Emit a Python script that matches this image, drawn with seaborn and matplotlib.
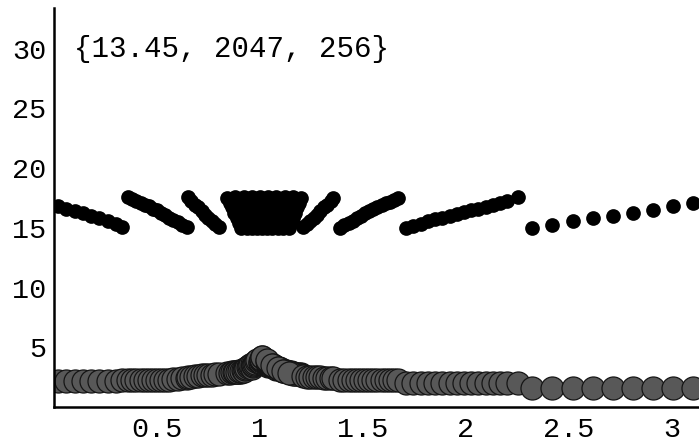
import matplotlib
matplotlib.use("Agg")
import matplotlib.pyplot as plt
import seaborn as sns
import pandas as pd

# ---------------- data ----------------
# segment A (left edge)
seg_a_x = [0.02, 0.06, 0.10, 0.14, 0.18, 0.22, 0.26, 0.30, 0.33]
seg_a_top = [16.8, 16.6, 16.4, 16.2, 16.0, 15.8, 15.6, 15.35, 15.05]
seg_a_low = [2.2, 2.2, 2.2, 2.15, 2.2, 2.2, 2.2, 2.2, 2.25]

# segment B
seg_b_x = [0.36, 0.38, 0.40, 0.42, 0.44, 0.46, 0.48, 0.50, 0.52, 0.54,
           0.56, 0.58, 0.60, 0.62, 0.645]
seg_b_top = [17.55, 17.4, 17.25, 17.1, 16.95, 16.8, 16.6, 16.45, 16.25, 16.05,
             15.85, 15.65, 15.45, 15.25, 15.05]
seg_b_low = [2.3, 2.3, 2.3, 2.3, 2.3, 2.3, 2.3, 2.3, 2.3, 2.3,
             2.3, 2.35, 2.35, 2.4, 2.45]

# segment C
seg_c_x = [0.65, 0.667, 0.683, 0.70, 0.717, 0.733, 0.75, 0.767, 0.783, 0.80]
seg_c_top = [17.55, 17.25, 16.95, 16.7, 16.4, 16.1, 15.85, 15.55, 15.3, 15.05]
seg_c_low = [2.55, 2.55, 2.6, 2.6, 2.65, 2.65, 2.7, 2.7, 2.75, 2.75]

# dense cluster around x = 1 (ten steep arms, each listed top to bottom)
cluster_x = [0.84, 0.852, 0.863, 0.875, 0.887, 0.898, 0.91,
             0.88, 0.889, 0.898, 0.908, 0.917, 0.926, 0.935,
             0.92, 0.927, 0.933, 0.94, 0.947, 0.953, 0.96,
             0.96, 0.964, 0.968, 0.973, 0.977, 0.981, 0.985,
             1.0, 1.002, 1.003, 1.005, 1.007, 1.008, 1.01,
             1.04, 1.039, 1.038, 1.038, 1.037, 1.036, 1.035,
             1.08, 1.077, 1.073, 1.07, 1.067, 1.063, 1.06,
             1.12, 1.114, 1.108, 1.103, 1.097, 1.091, 1.085,
             1.16, 1.152, 1.143, 1.135, 1.127, 1.118, 1.11,
             1.20, 1.19, 1.18, 1.17, 1.16, 1.15, 1.14]
cluster_top = [17.5, 17.1, 16.7, 16.25, 15.85, 15.4, 15.0,
               17.55, 17.1, 16.7, 16.25, 15.85, 15.4, 14.95,
               17.55, 17.1, 16.7, 16.25, 15.85, 15.4, 15.0,
               17.6, 17.1, 16.7, 16.25, 15.85, 15.4, 14.95,
               17.6, 17.1, 16.7, 16.25, 15.85, 15.4, 15.0,
               17.6, 17.1, 16.7, 16.25, 15.85, 15.4, 14.95,
               17.6, 17.1, 16.7, 16.25, 15.85, 15.4, 15.0,
               17.55, 17.1, 16.7, 16.25, 15.85, 15.4, 14.95,
               17.55, 17.1, 16.7, 16.25, 15.85, 15.4, 15.0,
               17.5, 17.1, 16.7, 16.25, 15.85, 15.4, 15.0]
cluster_low = [2.85, 2.85, 2.9, 2.9, 2.9, 2.95, 2.95,
               2.9, 2.95, 3.0, 3.05, 3.1, 3.15, 3.2,
               3.05, 3.15, 3.25, 3.35, 3.45, 3.55, 3.6,
               3.3, 3.4, 3.5, 3.6, 3.7, 3.85, 3.95,
               3.65, 3.75, 3.85, 3.95, 4.05, 4.15, 4.2,
               3.4, 3.5, 3.6, 3.7, 3.8, 3.85, 3.9,
               3.2, 3.25, 3.3, 3.4, 3.45, 3.5, 3.55,
               3.0, 3.05, 3.1, 3.15, 3.2, 3.25, 3.3,
               2.85, 2.9, 2.9, 2.95, 3.0, 3.05, 3.05,
               2.75, 2.75, 2.8, 2.8, 2.8, 2.85, 2.85]

# segment C' (mirror of C)
seg_c2_x = [1.21, 1.227, 1.243, 1.26, 1.277, 1.293, 1.31, 1.327, 1.343, 1.355]
seg_c2_top = [15.05, 15.3, 15.55, 15.85, 16.1, 16.4, 16.7, 16.95, 17.25, 17.5]
seg_c2_low = [2.6, 2.55, 2.55, 2.5, 2.5, 2.5, 2.45, 2.45, 2.45, 2.4]

# segment B' (mirror of B)
seg_b2_x = [1.39, 1.41, 1.43, 1.45, 1.47, 1.49, 1.51, 1.53, 1.55, 1.57,
            1.59, 1.61, 1.63, 1.65, 1.67]
seg_b2_top = [15.0, 15.2, 15.4, 15.6, 15.8, 16.0, 16.2, 16.4, 16.6, 16.75,
              16.9, 17.05, 17.2, 17.35, 17.5]
seg_b2_low = [2.3, 2.3, 2.25, 2.25, 2.25, 2.25, 2.25, 2.25, 2.25, 2.25,
              2.25, 2.25, 2.25, 2.25, 2.25]

# segment A' (mirror of A, longer)
seg_a2_x = [1.71, 1.745, 1.78, 1.815, 1.85, 1.885, 1.92, 1.955, 1.99, 2.025,
            2.06, 2.095, 2.13, 2.165, 2.2, 2.25]
seg_a2_top = [14.95, 15.15, 15.35, 15.55, 15.7, 15.85, 16.0, 16.15, 16.3, 16.45,
              16.6, 16.75, 16.9, 17.05, 17.25, 17.55]
seg_a2_low = [2.05, 2.05, 2.05, 2.05, 2.05, 2.05, 2.05, 2.05, 2.05, 2.05,
              2.05, 2.05, 2.05, 2.05, 2.05, 2.05]

# sparse segment D (right end)
seg_d_x = [2.32, 2.417, 2.519, 2.617, 2.714, 2.811, 2.908, 3.005, 3.102]
seg_d_top = [15.0, 15.2, 15.55, 15.8, 16.0, 16.25, 16.45, 16.8, 17.1]
seg_d_low = [1.55, 1.55, 1.55, 1.55, 1.55, 1.55, 1.55, 1.55, 1.55]

x_ticks = [0.5, 1, 1.5, 2, 2.5, 3]
x_tick_labels = ["0.5", "1", "1.5", "2", "2.5", "3"]
y_ticks = [5, 10, 15, 20, 25, 30]
y_tick_labels = ["5", "10", "15", "20", "25", "30"]
annotation = "{13.45, 2047, 256}"

# ---------------- build table ----------------
xs = seg_a_x + seg_b_x + seg_c_x + cluster_x + seg_c2_x + seg_b2_x + seg_a2_x + seg_d_x
tops = seg_a_top + seg_b_top + seg_c_top + cluster_top + seg_c2_top + seg_b2_top + seg_a2_top + seg_d_top
lows = seg_a_low + seg_b_low + seg_c_low + cluster_low + seg_c2_low + seg_b2_low + seg_a2_low + seg_d_low
df = pd.DataFrame({"x": xs, "top": tops, "low": lows})

# ---------------- plot ----------------
sns.set_style("white")
plt.rcParams["font.family"] = ["Liberation Mono", "DejaVu Sans Mono"]

fig = plt.figure(figsize=(6.99, 4.48), dpi=100)
ax = fig.add_axes([54 / 699, 41 / 448, 645 / 699, 399 / 448])

sns.scatterplot(data=df, x="x", y="low", ax=ax, s=275, color="#585858",
                edgecolor="#151515", linewidth=0.9, zorder=2)
sns.scatterplot(data=df, x="x", y="top", ax=ax, s=112, color="black",
                edgecolor="black", linewidth=0, zorder=3)

ax.set_xlim(0, 645 / 206)
ax.set_ylim(0, 33.4)
ax.set_xlabel("")
ax.set_ylabel("")
ax.set_xticks(x_ticks)
ax.set_xticklabels(x_tick_labels)
ax.set_yticks(y_ticks)
ax.set_yticklabels(y_tick_labels)

for side in ["top", "right"]:
    ax.spines[side].set_visible(False)
for side in ["left", "bottom"]:
    ax.spines[side].set_color("black")
    ax.spines[side].set_linewidth(1.8)

ax.tick_params(axis="both", direction="inout", length=7, width=1.5,
               colors="black", labelsize=20.5)
ax.tick_params(axis="x", pad=4)
ax.tick_params(axis="y", pad=2)

ax.text(0.095, 30, annotation, ha="left", va="center", fontsize=21,
        color="black")

fig.savefig("out.png", dpi=100)
